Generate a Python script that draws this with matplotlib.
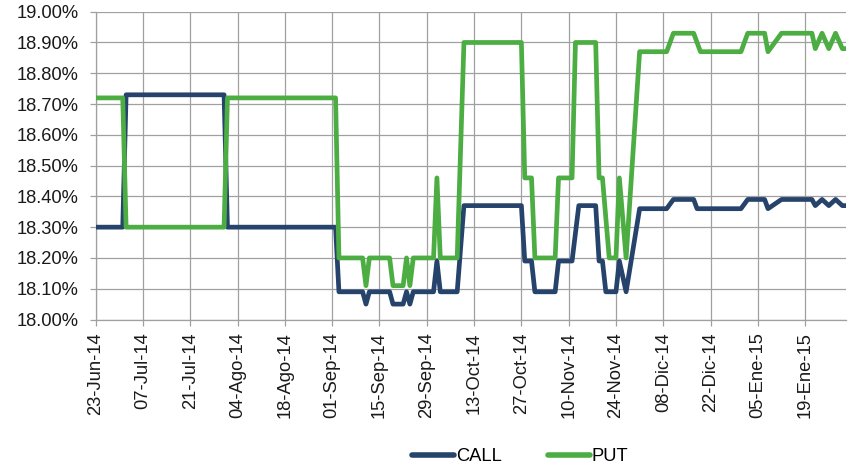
import matplotlib
matplotlib.use("Agg")
import matplotlib.pyplot as plt
import matplotlib.dates as mdates
import matplotlib.ticker as mticker
import pandas as pd

plt.rcParams['font.family'] = ['Liberation Sans', 'DejaVu Sans']

call_dates = ["2014-06-23", "2014-07-01", "2014-07-02", "2014-07-31", "2014-08-01",
              "2014-09-02", "2014-09-03", "2014-09-10", "2014-09-11", "2014-09-12",
              "2014-09-18", "2014-09-19", "2014-09-22", "2014-09-23", "2014-09-24",
              "2014-09-25", "2014-10-01", "2014-10-02", "2014-10-03", "2014-10-08",
              "2014-10-10", "2014-10-27", "2014-10-28", "2014-10-30", "2014-10-31",
              "2014-11-06", "2014-11-07", "2014-11-11", "2014-11-13", "2014-11-18",
              "2014-11-19", "2014-11-20", "2014-11-21", "2014-11-24", "2014-11-25",
              "2014-11-27", "2014-12-01", "2014-12-09", "2014-12-11", "2014-12-17",
              "2014-12-18", "2014-12-31", "2015-01-02", "2015-01-07", "2015-01-08",
              "2015-01-12", "2015-01-21", "2015-01-22", "2015-01-24", "2015-01-26",
              "2015-01-28", "2015-01-30", "2015-01-31"]
call_vals = [18.30, 18.30, 18.73, 18.73, 18.30,
             18.30, 18.09, 18.09, 18.05, 18.09,
             18.09, 18.05, 18.05, 18.09, 18.05,
             18.09, 18.09, 18.19, 18.09, 18.09,
             18.37, 18.37, 18.19, 18.19, 18.09,
             18.09, 18.19, 18.19, 18.37, 18.37,
             18.19, 18.19, 18.09, 18.09, 18.19,
             18.09, 18.36, 18.36, 18.39, 18.39,
             18.36, 18.36, 18.39, 18.39, 18.36,
             18.39, 18.39, 18.37, 18.39, 18.37,
             18.39, 18.37, 18.37]

put_dates = ["2014-06-23", "2014-07-01", "2014-07-02", "2014-07-31", "2014-08-01",
             "2014-09-02", "2014-09-03", "2014-09-10", "2014-09-11", "2014-09-12",
             "2014-09-18", "2014-09-19", "2014-09-22", "2014-09-23", "2014-09-24",
             "2014-09-25", "2014-10-01", "2014-10-02", "2014-10-03", "2014-10-08",
             "2014-10-10", "2014-10-27", "2014-10-28", "2014-10-30", "2014-10-31",
             "2014-11-06", "2014-11-07", "2014-11-11", "2014-11-12", "2014-11-18",
             "2014-11-19", "2014-11-20", "2014-11-22", "2014-11-24", "2014-11-25",
             "2014-11-27", "2014-12-01", "2014-12-09", "2014-12-11", "2014-12-17",
             "2014-12-19", "2014-12-31", "2015-01-02", "2015-01-07", "2015-01-08",
             "2015-01-12", "2015-01-21", "2015-01-22", "2015-01-24", "2015-01-26",
             "2015-01-28", "2015-01-30", "2015-01-31"]
put_vals = [18.72, 18.72, 18.30, 18.30, 18.72,
            18.72, 18.20, 18.20, 18.11, 18.20,
            18.20, 18.11, 18.11, 18.20, 18.11,
            18.20, 18.20, 18.46, 18.20, 18.20,
            18.90, 18.90, 18.46, 18.46, 18.20,
            18.20, 18.46, 18.46, 18.90, 18.90,
            18.46, 18.46, 18.20, 18.20, 18.46,
            18.20, 18.87, 18.87, 18.93, 18.93,
            18.87, 18.87, 18.93, 18.93, 18.87,
            18.93, 18.93, 18.88, 18.93, 18.88,
            18.93, 18.88, 18.88]

tick_dates = ["2014-06-23", "2014-07-07", "2014-07-21", "2014-08-04", "2014-08-18",
              "2014-09-01", "2014-09-15", "2014-09-29", "2014-10-13", "2014-10-27",
              "2014-11-10", "2014-11-24", "2014-12-08", "2014-12-22", "2015-01-05",
              "2015-01-19"]
tick_labels = ["23-Jun-14", "07-Jul-14", "21-Jul-14", "04-Ago-14", "18-Ago-14",
               "01-Sep-14", "15-Sep-14", "29-Sep-14", "13-Oct-14", "27-Oct-14",
               "10-Nov-14", "24-Nov-14", "08-Dic-14", "22-Dic-14", "05-Ene-15",
               "19-Ene-15"]
series_names = ["CALL", "PUT"]
x_start, x_end = "2014-06-23", "2015-01-31"

CALL_COLOR = "#25436B"
PUT_COLOR = "#4CAD43"
GRID = "#A0A0A0"

fig = plt.figure(figsize=(8.52, 4.71), dpi=100)
ax = fig.add_axes([95.7 / 852, 1 - 319.5 / 471, (845.7 - 95.7) / 852, (319.5 - 11.7) / 471])

cd = pd.to_datetime(call_dates)
pdts = pd.to_datetime(put_dates)
lw = 3.4
ax.plot(cd, call_vals, color=CALL_COLOR, lw=lw, solid_joinstyle="round",
        solid_capstyle="round", label=series_names[0], zorder=3)
ax.plot(pdts, put_vals, color=PUT_COLOR, lw=lw, solid_joinstyle="round",
        solid_capstyle="round", label=series_names[1], zorder=4)

ax.set_xlim(pd.Timestamp(x_start), pd.Timestamp(x_end))
ax.set_ylim(18.0, 19.0)
ax.yaxis.set_major_locator(mticker.MultipleLocator(0.1))
ax.yaxis.set_major_formatter(mticker.FuncFormatter(lambda v, p: f"{v:.2f}%"))
ax.set_xticks(pd.to_datetime(tick_dates))
ax.set_xticklabels(tick_labels, rotation=90, va="top", ha="center")

ax.grid(True, color=GRID, lw=0.9)
ax.set_axisbelow(True)
for s in ["top", "right"]:
    ax.spines[s].set_visible(False)
for s in ["left", "bottom"]:
    ax.spines[s].set_color(GRID)
    ax.spines[s].set_linewidth(0.9)
ax.tick_params(axis="both", colors=GRID, length=4.3, width=0.9, labelsize=13.2,
               labelcolor="#1a1a1a")
ax.tick_params(axis="y", pad=8)
ax.tick_params(axis="x", pad=5)

leg = fig.legend(loc="center", bbox_to_anchor=(520 / 852, 1 - 456.7 / 471), ncol=2,
                 frameon=False, fontsize=13.2, handlelength=2.3, handletextpad=0.1,
                 columnspacing=2.5)
for h in leg.get_lines():
    h.set_linewidth(4.0)
    h.set_solid_capstyle("round")

fig.savefig("out.png", dpi=100)
